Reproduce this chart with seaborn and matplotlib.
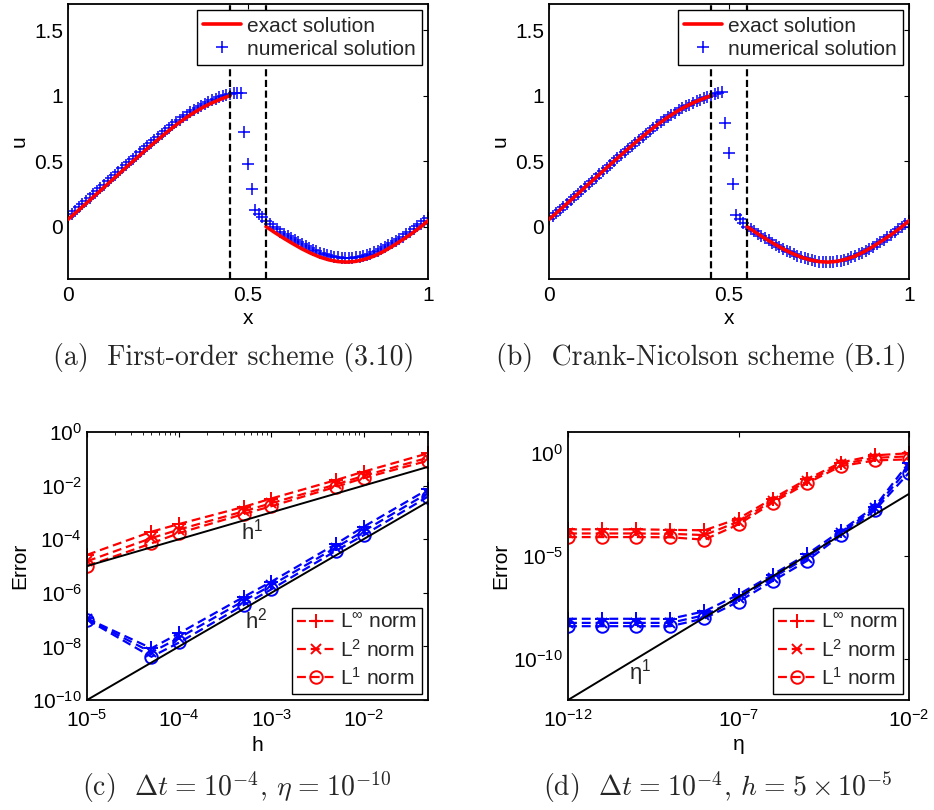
import numpy as np
import matplotlib
matplotlib.use("Agg")
import matplotlib.pyplot as plt
import seaborn as sns
from matplotlib.lines import Line2D

# ---------------------------------------------------------------- data
# exact solution, left of the interface and right of it
x_exact_left = [0.000, 0.025, 0.050, 0.075, 0.100, 0.125, 0.150, 0.175, 0.200, 0.225,
                0.250, 0.275, 0.300, 0.325, 0.350, 0.375, 0.400, 0.425, 0.450]
u_exact_left = [0.055, 0.115, 0.176, 0.238, 0.300, 0.362, 0.424, 0.486, 0.547, 0.607,
                0.665, 0.722, 0.776, 0.826, 0.871, 0.911, 0.945, 0.974, 1.000]
x_exact_right = [0.550, 0.575, 0.600, 0.625, 0.650, 0.675, 0.700, 0.725, 0.750, 0.775,
                 0.800, 0.825, 0.850, 0.875, 0.900, 0.925, 0.950, 0.975, 1.000]
u_exact_right = [0.000, -0.046, -0.090, -0.131, -0.170, -0.204, -0.233, -0.254, -0.267, -0.271,
                 -0.265, -0.249, -0.225, -0.192, -0.152, -0.108, -0.062, -0.012, 0.045]

# grid of the numerical solutions (h = 0.01)
x_grid = np.round(np.linspace(0.0, 1.0, 101), 2)

# first-order scheme (3.10)
u_first_order = [
    0.075, 0.099, 0.123, 0.147, 0.172, 0.196, 0.221, 0.246, 0.270, 0.295,
    0.320, 0.345, 0.370, 0.394, 0.419, 0.444, 0.469, 0.494, 0.518, 0.543,
    0.567, 0.591, 0.615, 0.639, 0.662, 0.685, 0.708, 0.731, 0.753, 0.775,
    0.796, 0.816, 0.836, 0.855, 0.873, 0.891, 0.907, 0.923, 0.938, 0.952,
    0.965, 0.976, 0.987, 0.997, 1.005, 1.012, 1.017, 1.020, 1.022, 0.720,
    0.480, 0.290, 0.130, 0.100, 0.070, 0.045, 0.017, -0.003, -0.021, -0.039,
    -0.056, -0.072, -0.089, -0.105, -0.121, -0.136, -0.150, -0.163, -0.176, -0.188,
    -0.199, -0.208, -0.216, -0.223, -0.229, -0.233, -0.236, -0.238, -0.238, -0.237,
    -0.234, -0.229, -0.223, -0.216, -0.207, -0.197, -0.185, -0.173, -0.159, -0.144,
    -0.128, -0.111, -0.094, -0.076, -0.058, -0.039, -0.019, 0.001, 0.022, 0.044,
    0.066]

# Crank-Nicolson scheme (B.1)
u_crank_nicolson = [
    0.055, 0.079, 0.103, 0.127, 0.152, 0.176, 0.201, 0.226, 0.250, 0.275,
    0.300, 0.325, 0.350, 0.374, 0.399, 0.424, 0.449, 0.474, 0.498, 0.523,
    0.547, 0.571, 0.595, 0.619, 0.642, 0.665, 0.688, 0.711, 0.733, 0.755,
    0.776, 0.796, 0.816, 0.835, 0.853, 0.871, 0.887, 0.903, 0.918, 0.932,
    0.945, 0.957, 0.968, 0.979, 0.990, 1.000, 1.010, 1.018, 1.025, 0.790,
    0.560, 0.326, 0.090, 0.055, 0.025, 0.000, -0.018, -0.037, -0.055, -0.073,
    -0.090, -0.106, -0.123, -0.139, -0.155, -0.170, -0.184, -0.197, -0.210, -0.222,
    -0.233, -0.242, -0.250, -0.257, -0.262, -0.267, -0.269, -0.271, -0.270, -0.268,
    -0.265, -0.259, -0.252, -0.245, -0.235, -0.225, -0.212, -0.199, -0.184, -0.168,
    -0.152, -0.135, -0.117, -0.099, -0.081, -0.062, -0.042, -0.022, -0.001, 0.022,
    0.045]

interface_x = [0.45, 0.55]

# convergence in h
h_values = [1e-5, 5e-5, 1e-4, 5e-4, 1e-3, 5e-3, 1e-2, 5e-2]
c_red_linf = [2.6e-5, 1.9e-4, 3.7e-4, 1.6e-3, 3.3e-3, 1.6e-2, 3.3e-2, 1.6e-1]
c_red_l2 = [1.5e-5, 1.1e-4, 2.3e-4, 1.1e-3, 2.2e-3, 1.1e-2, 2.3e-2, 1.1e-1]
c_red_l1 = [1.0e-5, 7.0e-5, 1.7e-4, 8.7e-4, 1.7e-3, 9.0e-3, 1.9e-2, 8.5e-2]
c_blue_linf = [1.1e-7, 8.5e-9, 3.1e-8, 7.0e-7, 2.6e-6, 6.6e-5, 2.9e-4, 7.3e-3]
c_blue_l2 = [1.05e-7, 6.0e-9, 2.1e-8, 5.0e-7, 1.9e-6, 4.9e-5, 2.0e-4, 5.3e-3]
c_blue_l1 = [1.0e-7, 4.1e-9, 1.4e-8, 3.5e-7, 1.35e-6, 3.7e-5, 1.4e-4, 3.9e-3]
ref_h = [1e-5, 5e-2]
ref_h1 = [1e-5, 5e-2]
ref_h2 = [1e-10, 2.5e-3]

# convergence in eta
eta_values = [1e-12, 1e-11, 1e-10, 1e-9, 1e-8, 1e-7, 1e-6, 1e-5, 1e-4, 1e-3, 1e-2]
d_red_linf = [1.9e-4, 1.9e-4, 1.9e-4, 1.8e-4, 1.7e-4, 6.3e-4, 5.9e-3, 5.0e-2, 3.3e-1, 7.4e-1, 9.3e-1]
d_red_l2 = [1.2e-4, 1.2e-4, 1.2e-4, 1.15e-4, 1.0e-4, 4.5e-4, 4.6e-3, 4.0e-2, 2.7e-1, 5.6e-1, 6.6e-1]
d_red_l1 = [8.0e-5, 8.0e-5, 8.0e-5, 7.8e-5, 6.0e-5, 3.3e-4, 3.7e-3, 3.2e-2, 2.2e-1, 4.2e-1, 4.7e-1]
d_blue_linf = [8.7e-9, 8.7e-9, 8.7e-9, 8.7e-9, 2.0e-8, 1.3e-7, 1.2e-6, 1.15e-5, 1.6e-4, 2.4e-3, 3.3e-1]
d_blue_l2 = [5.5e-9, 5.5e-9, 5.5e-9, 5.5e-9, 1.3e-8, 8.5e-8, 8.5e-7, 8.0e-6, 1.25e-4, 2.0e-3, 1.9e-1]
d_blue_l1 = [3.8e-9, 3.8e-9, 3.8e-9, 3.8e-9, 9.0e-9, 5.9e-8, 5.9e-7, 5.5e-6, 9.7e-5, 1.6e-3, 1.07e-1]
ref_eta = [1e-12, 1e-2]
ref_eta1 = [1e-12, 1e-2]

norm_labels = [r"L$^{\infty}$ norm", r"L$^{2}$ norm", r"L$^{1}$ norm"]
norm_markers = ["+", "x", "o"]
marker_sizes = {"+": 10, "x": 7, "o": 9}

captions = [
    r"(a)  First-order scheme (3.10)",
    r"(b)  Crank-Nicolson scheme (B.1)",
    r"(c)  $\Delta t\hspace{0.1}=\hspace{0.1}10^{-4}$, $\eta\hspace{0.1}=\hspace{0.1}10^{-10}$",
    r"(d)  $\Delta t\hspace{0.1}=\hspace{0.1}10^{-4}$, $h\hspace{0.1}=\hspace{0.1}5\times10^{-5}$",
]

# ---------------------------------------------------------------- style
FS = 15
sns.set_style("white")
plt.rcParams.update({
    "font.family": ["Liberation Sans", "DejaVu Sans"],
    "font.size": FS,
    "mathtext.fontset": "custom",
    "mathtext.rm": "Liberation Sans",
    "mathtext.it": "Liberation Sans:italic",
    "mathtext.bf": "Liberation Sans:bold",
    "mathtext.sf": "Liberation Sans",
    "axes.edgecolor": "black",
    "axes.linewidth": 1.3,
    "xtick.direction": "in",
    "ytick.direction": "in",
    "xtick.top": True,
    "ytick.right": True,
    "xtick.major.size": 3.5,
    "ytick.major.size": 3.5,
    "xtick.minor.size": 2.0,
    "ytick.minor.size": 2.0,
    "xtick.major.width": 0.8,
    "ytick.major.width": 0.8,
    "xtick.minor.width": 0.6,
    "ytick.minor.width": 0.6,
    "xtick.labelsize": FS,
    "ytick.labelsize": FS,
    "xtick.major.pad": 5,
    "ytick.major.pad": 3.5,
    "xtick.color": "black",
    "ytick.color": "black",
    "axes.labelsize": FS,
    "axes.labelcolor": "black",
    "legend.fontsize": FS,
})

W, H = 934, 810
fig = plt.figure(figsize=(W / 100, H / 100), dpi=100)


def px_axes(left, top, right, bottom):
    return fig.add_axes([left / W, 1 - bottom / H, (right - left) / W, (bottom - top) / H])


def legend_box(ax, handles, labels, loc, **kw):
    leg = ax.legend(handles, labels, loc=loc, frameon=True, fancybox=False,
                    framealpha=1.0, edgecolor="black", borderaxespad=0.3, **kw)
    leg.get_frame().set_linewidth(1.0)
    leg.set_zorder(10)
    return leg


# ---------------------------------------------------------------- (a), (b)
def draw_solution(ax, u_num):
    sns.lineplot(x=x_grid, y=u_num, color="blue", marker="+", ms=8, mew=1.1,
                 mec="blue", linestyle="none", ax=ax, sort=False, zorder=2)
    sns.lineplot(x=x_exact_left, y=u_exact_left, color="red", lw=2.6, ax=ax,
                 sort=False, zorder=3)
    sns.lineplot(x=x_exact_right, y=u_exact_right, color="red", lw=2.6, ax=ax,
                 sort=False, zorder=3)
    for xv in interface_x:
        ax.axvline(xv, color="black", lw=1.6, linestyle=(0, (3.2, 1.6)), zorder=4)
    ax.set_xlim(0, 1)
    ax.set_ylim(-0.4, 1.7)
    ax.set_xticks([0, 0.5, 1])
    ax.set_xticklabels(["0", "0.5", "1"])
    ax.set_yticks([0, 0.5, 1, 1.5])
    ax.set_yticklabels(["0", "0.5", "1", "1.5"])
    ax.set_xlabel("x", labelpad=3)
    ax.set_ylabel("u", labelpad=4)
    handles = [Line2D([], [], color="red", lw=2.6),
               Line2D([], [], color="blue", marker="+", ms=8, mew=1.1, linestyle="none")]
    legend_box(ax, handles, ["exact solution", "numerical solution"], "upper right",
               handlelength=1.8, handletextpad=0.3, borderpad=0.3, labelspacing=0.2)


ax_a = px_axes(68, 4, 428, 279)
draw_solution(ax_a, u_first_order)
ax_b = px_axes(549, 4, 909, 279)
draw_solution(ax_b, u_crank_nicolson)


# ---------------------------------------------------------------- (c), (d)
DASH = (0, (4, 2.2))


def draw_errors(ax, xs, red_sets, blue_sets, ref_x, ref_lines):
    ax.set_xscale("log")
    ax.set_yscale("log")
    for color, sets in (("red", red_sets), ("blue", blue_sets)):
        for series, mk in zip(sets, norm_markers):
            sns.lineplot(x=xs, y=series, color=color, lw=1.6, linestyle=DASH,
                         marker=mk, ms=marker_sizes[mk], mew=1.4, mec=color,
                         mfc="none", ax=ax, sort=False)
    for ref in ref_lines:
        sns.lineplot(x=ref_x, y=ref, color="black", lw=1.4, ax=ax, sort=False)
    handles = [Line2D([], [], color="red", lw=1.6, linestyle=DASH, marker=mk,
                      ms=marker_sizes[mk], mew=1.4, mfc="none")
               for mk in norm_markers]
    legend_box(ax, handles, norm_labels, "lower right", handlelength=1.8,
               handletextpad=0.25, borderpad=0.25, labelspacing=0.3, numpoints=1)
    ax.tick_params(axis="x", which="major", pad=6.5)


ax_c = px_axes(87, 432, 428, 700)
draw_errors(ax_c, h_values, [c_red_linf, c_red_l2, c_red_l1],
            [c_blue_linf, c_blue_l2, c_blue_l1], ref_h, [ref_h1, ref_h2])
ax_c.set_xlim(1e-5, 5e-2)
ax_c.set_ylim(1e-10, 1e0)
ax_c.set_yticks([1e0, 1e-2, 1e-4, 1e-6, 1e-8, 1e-10])
ax_c.set_yticks([], minor=True)
ax_c.set_xticks([1e-5, 1e-4, 1e-3, 1e-2])
ax_c.xaxis.set_minor_locator(matplotlib.ticker.LogLocator(base=10, subs=np.arange(2, 10)))
ax_c.xaxis.set_minor_formatter(matplotlib.ticker.NullFormatter())
ax_c.set_xlabel("h", labelpad=4)
ax_c.set_ylabel("Error", labelpad=2)
ax_c.text(4.7e-4, 1.0e-4, r"h$^{1}$", fontsize=16, ha="left", va="baseline")
ax_c.text(5.2e-4, 4.7e-8, r"h$^{2}$", fontsize=16, ha="left", va="baseline")

ax_d = px_axes(568, 432, 909, 700)
draw_errors(ax_d, eta_values, [d_red_linf, d_red_l2, d_red_l1],
            [d_blue_linf, d_blue_l2, d_blue_l1], ref_eta, [ref_eta1])
ax_d.set_xlim(1e-12, 1e-2)
ax_d.set_ylim(1e-12, 1e1)
ax_d.set_yticks([1e0, 1e-5, 1e-10])
ax_d.set_yticks([], minor=True)
ax_d.set_xticks([1e-12, 1e-7, 1e-2])
ax_d.set_xticks([], minor=True)
ax_d.set_xlabel("η", labelpad=3)
ax_d.set_ylabel("Error", labelpad=2)
ax_d.text(6.3e-11, 1.0e-11, r"η$^{1}$", fontsize=16, ha="left", va="baseline")

# ---------------------------------------------------------------- captions
caption_xy = [(234, 358), (701, 358), (237, 787), (718, 787)]
for (cx, cy), txt in zip(caption_xy, captions):
    fig.text(cx / W, 1 - cy / H, txt, ha="center", va="center", fontsize=20,
             family="cmr10", math_fontfamily="cm")

fig.savefig("out.png", dpi=100)
